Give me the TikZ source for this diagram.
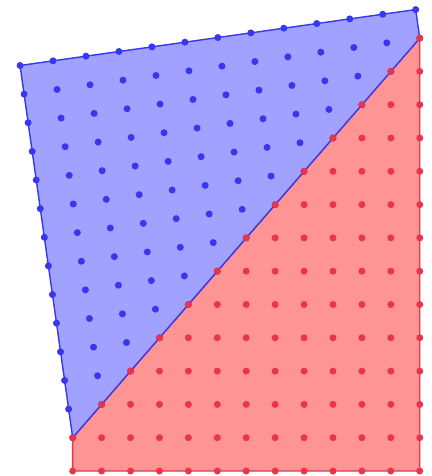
\documentclass[tikz,border=0pt]{standalone}
\usepackage{tikz}
\usetikzlibrary{calc}
\definecolor{latblue}{RGB}{55,55,240}
\definecolor{latred}{RGB}{234,52,72}
\tikzset{
  bluearea/.style={fill=blue!37, draw=latblue, line width=1.2pt, line join=round},
  redarea/.style={fill=red!42, draw=latred, line width=1.2pt, line join=round},
  bluedot/.style={fill=latblue},
  reddot/.style={fill=latred},
  dotsize/.style={radius=0.105cm}
}
\begin{document}
\begin{tikzpicture}[x=0.03cm, y=-0.03cm]
\useasboundingbox (0,0) rectangle (432,476);

% Red part (upright lattice)
\begin{scope}[shift={(72.7,471)}, x={(0.8676cm,0)}, y={(0,0.999cm)}]
  \coordinate (r0) at (0,0);
  \coordinate (r1) at (12,0);
  \coordinate (r2) at (12,13);
  \coordinate (r3) at (0,1);
  \filldraw[redarea] (r0) -- (r1) -- (r2) -- (r3) -- cycle;
\end{scope}

% Blue part (tilted lattice)
\begin{scope}[shift={(72.7,437.7)}, x={(0.9891cm,0.1398cm)}, y={(-0.1215cm,0.8589cm)}]
  \coordinate (b0) at (0,0);
  \coordinate (b1) at (12,12);
  \coordinate (b2) at (12,13);
  \coordinate (b3) at (0,13);
  \filldraw[bluearea] (b0) -- (b1) -- (b2) -- (b3) -- cycle;
  \foreach \i in {0,...,12}
    \foreach \j in {\i,...,13}
      \fill[bluedot] (\i,\j) circle[dotsize];
\end{scope}

% Red dots on top
\begin{scope}[shift={(72.7,471)}, x={(0.8676cm,0)}, y={(0,0.999cm)}]
  \foreach \i in {0,...,12}{
    \pgfmathtruncatemacro\toprow{\i+1}
    \foreach \j in {0,...,\toprow}
      \fill[reddot] (\i,\j) circle[dotsize];
  }
\end{scope}

\end{tikzpicture}
\end{document}
